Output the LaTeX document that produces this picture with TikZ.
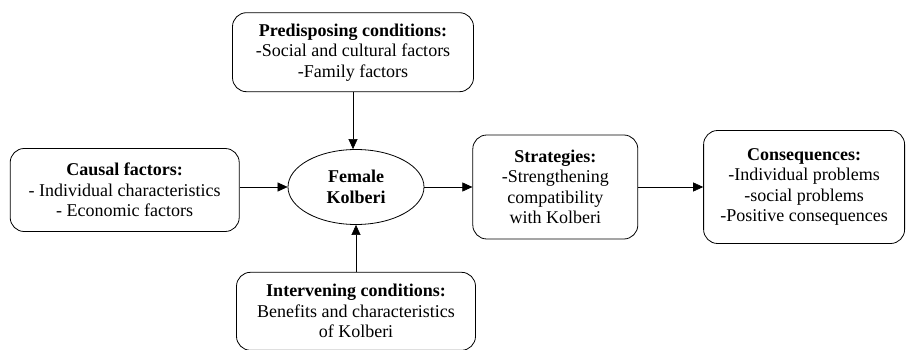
\documentclass[tikz,border=0pt]{standalone}
\usepackage{fontspec}
\setmainfont{Liberation Serif}
\usepackage{tikz}
\usetikzlibrary{
  shapes.geometric,
  arrows.meta,
  positioning
}
\tikzset{
  factor/.style={
    rectangle, draw=black, rounded corners=14pt, inner sep=2pt,
    font=\fontsize{18}{20.5}\selectfont, align=center, line width=0.8pt
  },
  core/.style={
    ellipse, draw=black, minimum width=136pt, minimum height=75pt, inner sep=1pt,
    font=\fontsize{18}{20.5}\selectfont\bfseries, align=center, line width=0.8pt
  },
  arrow/.style={-{Triangle[length=10pt,width=9pt]}, line width=0.6pt},
}

\begin{document}
\begin{tikzpicture}[x=1pt, y=-1pt]
\useasboundingbox (0,0) rectangle (909,350);

\node[core] (kolberi) at (356,187) {Female\\Kolberi};

\node[factor, minimum width=241pt, minimum height=79pt, above=57pt of kolberi, xshift=-3pt] (predisposing)
  {\textbf{Predisposing conditions:}\\-Social and cultural factors\\-Family factors};
\node[factor, minimum width=229pt, minimum height=83pt, left=48pt of kolberi, yshift=-3pt] (causal)
  {\textbf{Causal factors:}\\- Individual characteristics\\- Economic factors};
\node[factor, minimum width=239pt, minimum height=78pt, below=47pt of kolberi] (intervening)
  {\textbf{Intervening conditions:}\\Benefits and characteristics\\of Kolberi};
\node[factor, minimum width=165pt, minimum height=104pt, right=48pt of kolberi] (strategies)
  {\textbf{Strategies:}\\-Strengthening\\compatibility\\with Kolberi};
\node[factor, minimum width=201pt, minimum height=113pt, right=65pt of strategies] (consequences)
  {\textbf{Consequences:}\\-Individual problems\\-social problems\\-Positive consequences};

\draw[arrow] (predisposing) -- (predisposing |- kolberi.north);
\draw[arrow] (intervening) -- (kolberi);
\draw[arrow] (causal.east |- kolberi) -- (kolberi);
\draw[arrow] (kolberi) -- (strategies);
\draw[arrow] (strategies) -- (consequences);

\end{tikzpicture}
\end{document}
